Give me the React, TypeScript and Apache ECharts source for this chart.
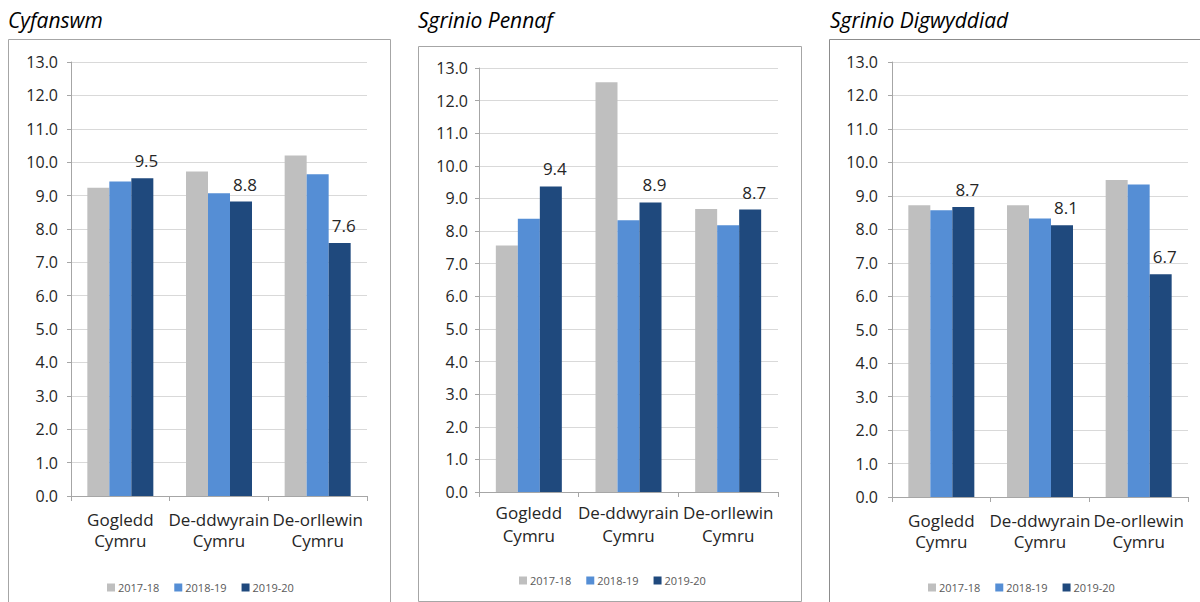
import React, { useEffect, useRef } from "react";
import * as echarts from "echarts";

const categories = ["Gogledd\nCymru", "De-ddwyrain\nCymru", "De-orllewin\nCymru"];
const seriesNames = ["2017-18", "2018-19", "2019-20"];
const colors = ["#bfbfbf", "#558ed5", "#1f497d"];
const panelTitles = ["Cyfanswm", "Sgrinio Pennaf", "Sgrinio Digwyddiad"];

// values[panel][series][category]
const totalValues = [
  [9.23, 9.72, 10.2],
  [9.42, 9.07, 9.64],
  [9.52, 8.82, 7.58],
];
const primaryValues = [
  [7.56, 12.56, 8.68],
  [8.38, 8.33, 8.18],
  [9.37, 8.88, 8.66],
];
const eventValues = [
  [8.72, 8.72, 9.47],
  [8.57, 8.32, 9.34],
  [8.67, 8.12, 6.66],
];
const panelValues = [totalValues, primaryValues, eventValues];

const FONT = "'Open Sans', 'Liberation Sans', sans-serif";

// layout per panel
const grids = [
  { left: 71, top: 62, width: 296, height: 434 },
  { left: 479, top: 68, width: 299, height: 424 },
  { left: 892, top: 62, width: 296, height: 435 },
];
const boxes = [
  { x: 8, y: 39, w: 382, h: 575, stroke: "#a6a6a6" },
  { x: 418, y: 46, w: 383, h: 555, stroke: "#a6a6a6" },
  { x: 829, y: 39, w: 385, h: 575, stroke: "#8c8c8c" },
];
const titlePos = [
  { x: 8, y: 20 },
  { x: 418, y: 20 },
  { x: 830, y: 20 },
];
const legendPos = [
  { left: 102, top: 577 },
  { left: 514, top: 570 },
  { left: 923, top: 577 },
];
const labelLineHeights = [21, 23, 21];
const labelMargins = [13, 9, 13];
const yLabelMargins = [13, 11, 14];

export default function App() {
  const ref = useRef<HTMLDivElement>(null);
  useEffect(() => {
    if (!ref.current) return;
    const chart = echarts.init(ref.current, undefined, { renderer: "svg" });

    const xAxis = grids.map((_, i) => ({
      type: "category",
      gridIndex: i,
      data: categories,
      axisLine: { lineStyle: { color: "#a6a6a6", width: 1 } },
      axisTick: { show: true, length: 5, lineStyle: { color: "#a6a6a6" } },
      axisLabel: {
        color: "#262626",
        fontFamily: FONT,
        fontSize: 17,
        lineHeight: labelLineHeights[i],
        margin: labelMargins[i],
        interval: 0,
      },
    }));
    const yAxis = grids.map((_, i) => ({
      type: "value",
      gridIndex: i,
      min: 0,
      max: 13,
      interval: 1,
      axisLine: { show: true, lineStyle: { color: "#a6a6a6", width: 1 } },
      axisTick: { show: true, length: 4, lineStyle: { color: "#a6a6a6" } },
      splitLine: { show: true, lineStyle: { color: "#d9d9d9", width: 1 } },
      axisLabel: {
        color: "#262626",
        fontFamily: FONT,
        fontSize: 16,
        margin: yLabelMargins[i],
        formatter: (v: number) => v.toFixed(1),
      },
    }));

    const series: any[] = [];
    panelValues.forEach((vals, p) => {
      vals.forEach((data, s) => {
        series.push({
          type: "bar",
          name: seriesNames[s],
          xAxisIndex: p,
          yAxisIndex: p,
          data,
          barWidth: 22,
          barGap: "0%",
          itemStyle: { color: colors[s] },
          label:
            s === 2
              ? {
                  show: true,
                  position: "top",
                  distance: 4,
                  offset: [4, -5],
                  color: "#262626",
                  fontFamily: FONT,
                  fontSize: 17,
                  formatter: (d: any) => d.value.toFixed(1),
                }
              : { show: false },
        });
      });
    });

    const graphic: any[] = [];
    boxes.forEach((b) => {
      graphic.push({
        type: "rect",
        shape: { x: b.x + 0.5, y: b.y + 0.5, width: b.w, height: b.h },
        style: { fill: "none", stroke: b.stroke, lineWidth: 1 },
        silent: true,
        z: -1,
      });
    });
    panelTitles.forEach((t, i) => {
      graphic.push({
        type: "text",
        x: titlePos[i].x,
        y: titlePos[i].y,
        style: {
          text: t,
          fontFamily: FONT,
          fontSize: 21,
          fontStyle: "italic",
          fill: "#000000",
          verticalAlign: "middle",
        },
      });
    });

    chart.setOption({
      animation: false,
      backgroundColor: "#ffffff",
      grid: grids.map((g) => ({ ...g, containLabel: false })),
      xAxis,
      yAxis,
      legend: legendPos.map((lp) => ({
        data: seriesNames,
        left: lp.left,
        top: lp.top,
        itemWidth: 8,
        itemHeight: 8,
        itemGap: 15,
        icon: "rect",
        textStyle: { fontFamily: FONT, fontSize: 11, color: "#595959", padding: [0, 0, 0, -2] },
        selectedMode: false,
      })),
      series,
      graphic,
    });
    return () => chart.dispose();
  }, []);
  return (
    <div
      ref={ref}
      style={{ position: "absolute", left: 0, top: 0, width: 1200, height: 602 }}
    />
  );
}
